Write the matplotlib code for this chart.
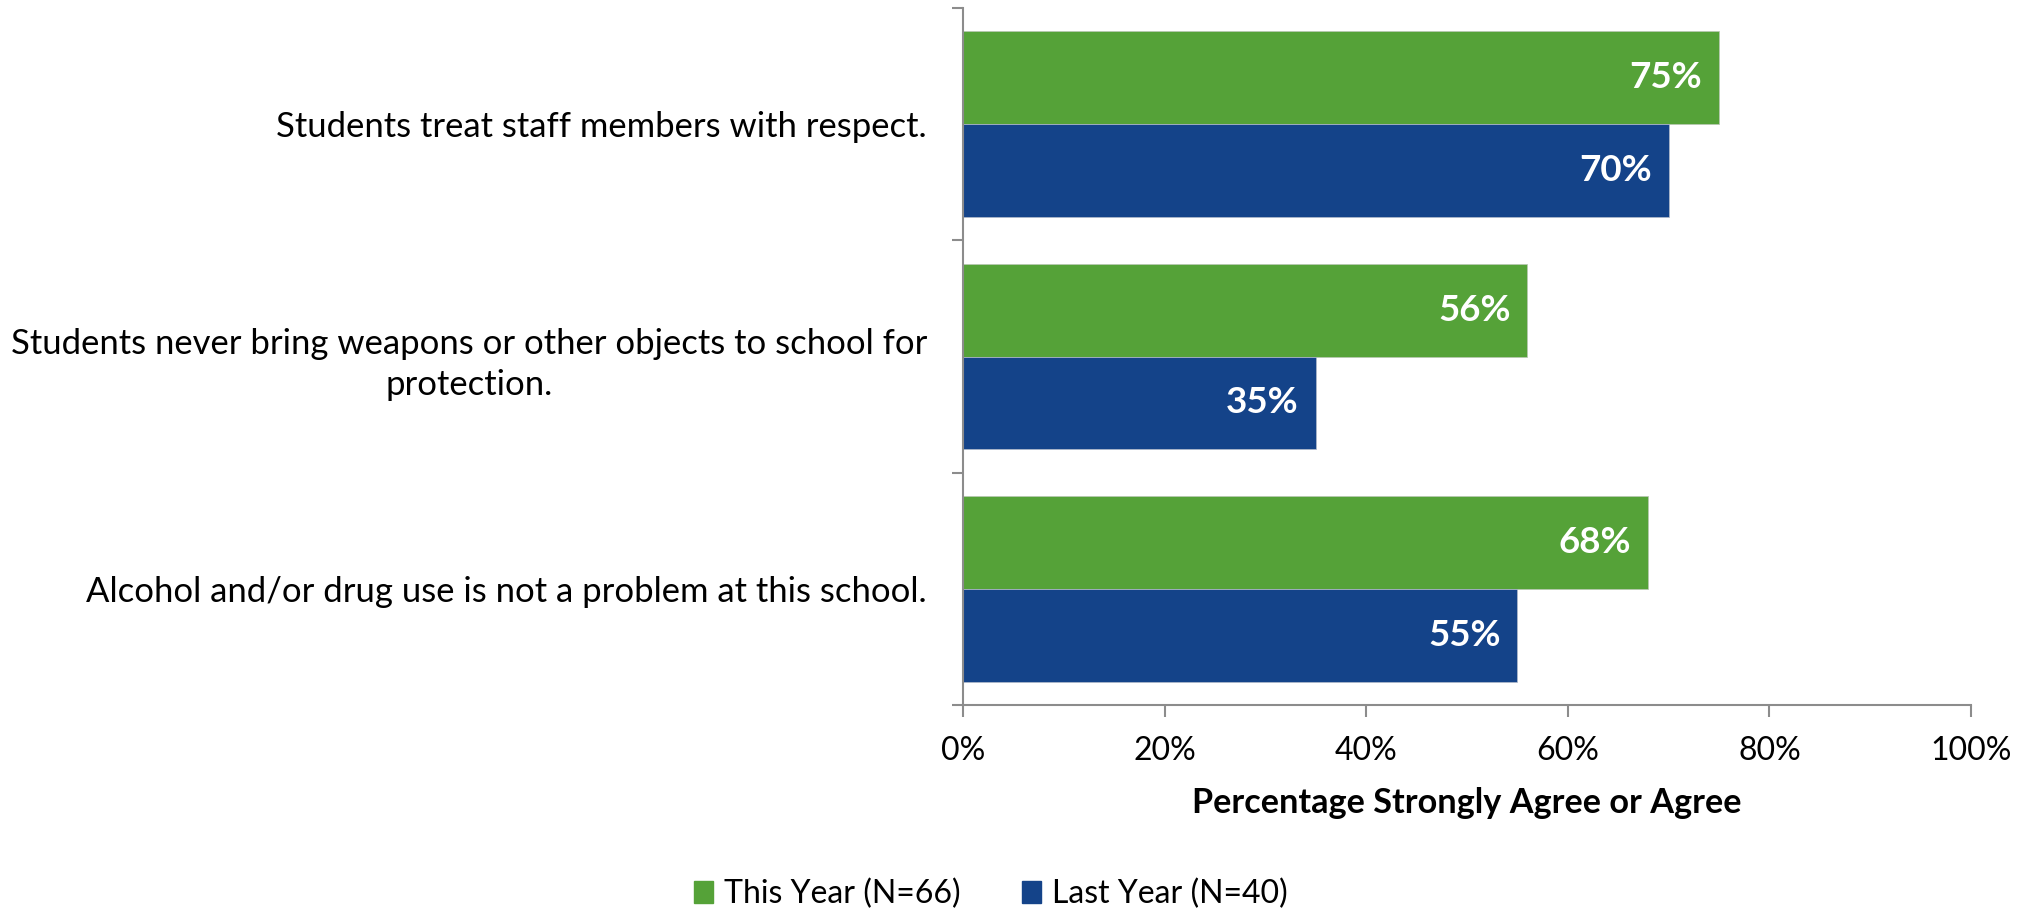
import numpy as np
from matplotlib import pyplot as plt
from matplotlib.patches import Patch

plt.rcParams['font.family'] = ['Lato', 'DejaVu Sans']

# data
questions = ["Students treat staff members with respect.",
             "Students never bring weapons or other objects to school for\nprotection.",
             "Alcohol and/or drug use is not a problem at this school."]
this_year = [75, 56, 68]
last_year = [70, 35, 55]
series_names = ["This Year (N=66)", "Last Year (N=40)"]
x_ticks = [0, 20, 40, 60, 80, 100]

green = '#55A238'
blue = '#144389'
axis_grey = '#8C8C8C'

fig = plt.figure(figsize=(20.35, 9.09), dpi=100)
ax = fig.add_axes([963 / 2035, 204 / 909, 1008 / 2035, 697 / 909])

y = np.arange(len(questions))
h = 0.4
bars_this = ax.barh(y - h / 2, this_year, height=h, color=green, edgecolor='#b9c6b4', linewidth=0.5)
bars_last = ax.barh(y + h / 2, last_year, height=h, color=blue, edgecolor='#b4bccb', linewidth=0.5)

for bars, vals in [(bars_this, this_year), (bars_last, last_year)]:
    for b, v in zip(bars, vals):
        ax.annotate(str(v) + "%", (v, b.get_y() + b.get_height() / 2),
                    xytext=(-17, 0), textcoords='offset pixels',
                    ha='right', va='center', color='white',
                    fontsize=26.5, fontweight='bold')

ax.set_xlim(0, 100)
ax.set_ylim(2.5, -0.5)

ax.set_xticks(x_ticks)
ax.set_xticklabels([str(t) + "%" for t in x_ticks])
ax.set_yticks([-0.5, 0.5, 1.5, 2.5])
ax.set_yticklabels([])
ax.set_yticks(y, questions, minor=True)
for lab in ax.get_yticklabels(minor=True):
    lab.set_multialignment('center')
    lab.set_linespacing(1.35)

ax.tick_params(axis='x', length=8.5, width=1.5, color=axis_grey, labelsize=23, pad=14)
ax.tick_params(axis='y', which='major', length=8, width=1.5, color=axis_grey)
ax.tick_params(axis='y', which='minor', length=0, labelsize=24.9, pad=26)

for side in ['top', 'right']:
    ax.spines[side].set_visible(False)
for side in ['left', 'bottom']:
    ax.spines[side].set_color(axis_grey)
    ax.spines[side].set_linewidth(1.5)

ax.set_xlabel("Percentage Strongly Agree or Agree", fontsize=24.7, fontweight='bold', labelpad=15)

handles = [Patch(color=green), Patch(color=blue)]
fig.legend(handles, series_names, loc='center', bbox_to_anchor=(991 / 2035, 1 - 894 / 909),
           ncol=2, frameon=False, fontsize=23, handlelength=0.6, handleheight=0.65,
           handletextpad=0.35, columnspacing=1.9, borderaxespad=0)

fig.savefig("out.png", dpi=100)
